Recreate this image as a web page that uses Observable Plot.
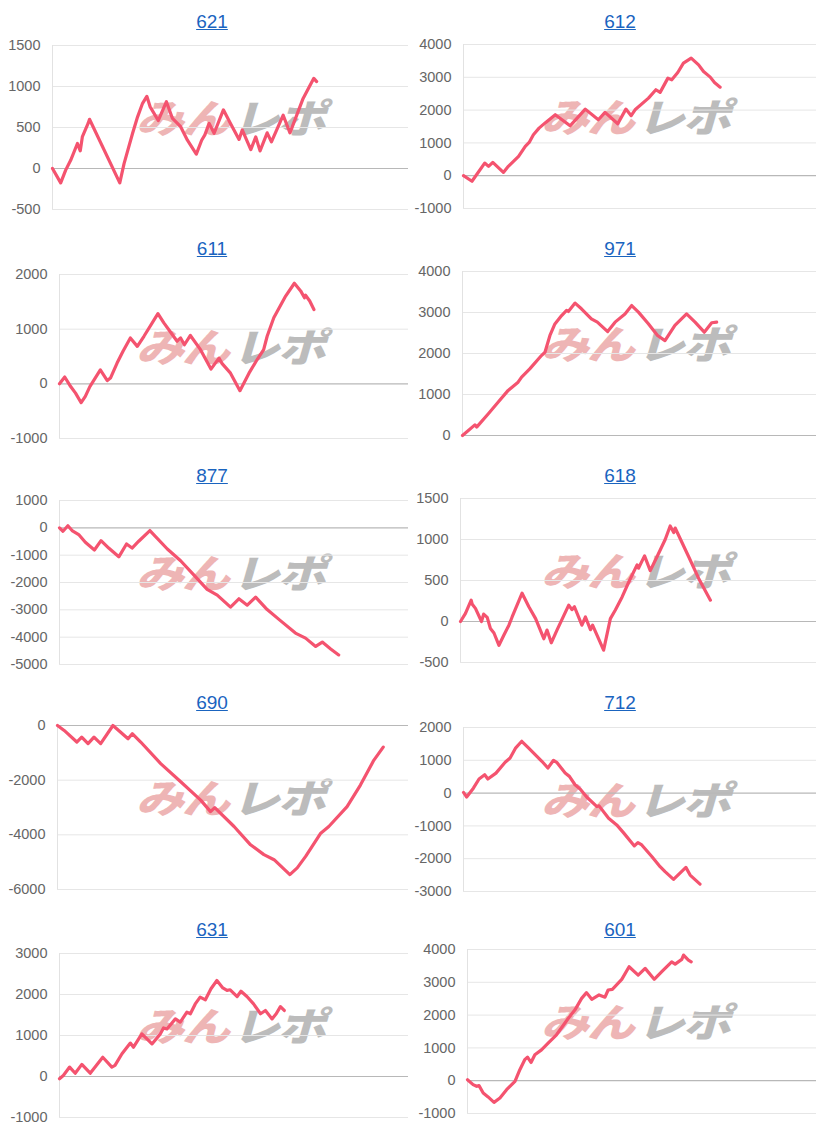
<!DOCTYPE html>
<html>
<head>
<meta charset="utf-8">
<script src="https://cdn.jsdelivr.net/npm/d3@7"></script>
<script src="https://cdn.jsdelivr.net/npm/@observablehq/plot@0.6"></script>
<style>
  html, body { margin: 0; padding: 0; background: #fff; }
  #page { position: relative; width: 816px; height: 1135px; overflow: hidden; font-family: "Liberation Sans", Arial, sans-serif; }
  .panel { position: absolute; width: 408px; height: 227px; }
  .title { position: absolute; top: 11px; left: 0; width: 424px; text-align: center; font-size: 19px; line-height: 22px; }
  .title a { color: #1a64bf; text-decoration: underline; }
  .wm { position: absolute; width: 205px; height: 40px; z-index: 0; white-space: nowrap;
        font-family: "Noto Sans CJK JP", sans-serif; font-weight: 900; font-size: 48px; line-height: 40px;
        transform: skewX(-16deg) scaleY(0.82); letter-spacing: -2px; }
  .wm .a { color: #eeb5b5; }
  .wm .b { color: #bcbcbc; margin-left: 4px; }
  .chart { position: absolute; left: 0; z-index: 1; }
  .chart svg { background: transparent !important; }
</style>
</head>
<body>
<div id="page"></div>
<script>
// Machine numbers (panel titles), in reading order
const machines = ["621", "612", "611", "971", "877", "618", "690", "712", "631", "601"];

// x: position along the x axis (percent of axis length); y: cumulative medals
const m621x = [0, 2.3, 3.7, 5.1, 7.0, 7.8, 8.4, 10.0, 10.4, 18.9, 20.1, 22.5, 23.9, 25.3, 26.5, 27.4, 29.7, 32.0, 33.7, 36.0, 37.9, 40.4, 41.9, 42.8, 44.0, 45.4, 48.0, 50.0, 52.4, 53.3, 55.7, 57.1, 58.3, 60.3, 61.5, 64.8, 66.7, 70.4, 73.4, 74.2];
const m621y = [0, -175, -20, 100, 305, 215, 390, 550, 600, -175, 60, 430, 630, 795, 880, 755, 585, 815, 610, 510, 345, 175, 345, 410, 550, 430, 715, 550, 355, 470, 230, 385, 215, 435, 325, 650, 435, 855, 1100, 1060];

const m612x = [0, 2.4, 6.0, 7.1, 8.3, 11.3, 12.7, 15.6, 17.5, 18.6, 19.8, 21.4, 23.3, 26.0, 30.2, 34.5, 38.2, 40.1, 43.7, 46.0, 47.5, 48.6, 52.4, 54.5, 55.7, 57.9, 59.0, 60.7, 62.3, 64.5, 66.6, 68.0, 69.9, 71.1, 72.7];
const m612y = [0, -170, 385, 285, 405, 100, 285, 590, 895, 1015, 1250, 1450, 1625, 1860, 1520, 2030, 1705, 1930, 1585, 2030, 1830, 2010, 2365, 2620, 2540, 2975, 2925, 3145, 3430, 3585, 3380, 3175, 3005, 2840, 2700];

const m611x = [0, 1.5, 3.2, 4.6, 6.2, 7.4, 8.7, 11.7, 13.7, 14.6, 16.5, 18.2, 20.3, 22.3, 24.2, 28.2, 29.9, 32.0, 33.7, 34.7, 35.8, 37.5, 40.4, 43.4, 45.7, 46.6, 49.0, 51.7, 54.3, 56.6, 58.5, 59.5, 61.4, 64.8, 67.3, 69.1, 70.2, 70.5, 71.7, 72.9];
const m611y = [0, 125, -50, -170, -345, -230, -50, 255, 60, 105, 380, 595, 840, 685, 870, 1285, 1115, 930, 780, 840, 715, 885, 625, 270, 470, 370, 195, -125, 195, 440, 625, 870, 1210, 1605, 1840, 1700, 1575, 1620, 1515, 1360];

const m971x = [0, 3.5, 4.0, 7.3, 10.1, 12.9, 15.7, 16.7, 19.0, 22.3, 23.3, 24.7, 26.1, 28.0, 29.4, 29.9, 31.8, 33.6, 36.4, 38.1, 41.0, 43.1, 45.9, 47.8, 49.7, 52.5, 55.1, 57.2, 60.0, 63.3, 65.7, 68.3, 70.4, 71.8];
const m971y = [0, 260, 205, 530, 815, 1100, 1300, 1425, 1625, 1950, 2030, 2440, 2720, 2925, 3050, 3025, 3230, 3090, 2845, 2765, 2535, 2765, 2965, 3170, 3010, 2725, 2440, 2315, 2685, 2965, 2765, 2520, 2750, 2765];

const m877x = [0, 1.0, 2.4, 3.6, 5.5, 7.4, 10.0, 11.9, 14.1, 17.0, 19.2, 20.8, 22.7, 25.9, 30.9, 34.7, 39.0, 42.3, 45.2, 49.0, 51.4, 53.8, 56.2, 59.5, 63.3, 67.6, 70.5, 73.4, 75.3, 77.7, 80.0];
const m877y = [0, -125, 75, -100, -245, -530, -810, -470, -740, -1060, -590, -740, -490, -100, -775, -1205, -1795, -2250, -2460, -2900, -2595, -2830, -2535, -2990, -3395, -3850, -4035, -4340, -4180, -4430, -4650];

const m618x = [0, 1.4, 3.0, 3.3, 4.2, 5.9, 6.5, 7.5, 8.4, 9.4, 10.8, 12.2, 13.6, 14.5, 17.3, 19.2, 21.1, 23.4, 24.3, 25.5, 27.1, 30.4, 31.3, 32.0, 34.1, 35.1, 36.5, 37.1, 40.2, 42.1, 43.5, 45.4, 47.3, 49.6, 50.0, 51.7, 53.3, 55.2, 57.5, 58.9, 59.9, 60.3, 64.1, 66.9, 70.2];
const m618y = [0, 100, 260, 210, 160, 0, 90, 50, -85, -140, -290, -165, -45, 55, 345, 180, 35, -210, -105, -260, -105, 200, 145, 180, -45, 55, -100, -45, -350, 35, 140, 300, 485, 690, 650, 800, 620, 790, 1000, 1165, 1085, 1140, 790, 525, 260];

const m690x = [0, 1.9, 5.5, 6.9, 8.7, 10.4, 12.3, 15.8, 20.1, 21.3, 23.7, 29.4, 35.1, 40.8, 43.6, 44.8, 50.3, 55.0, 58.8, 61.7, 66.2, 68.3, 70.7, 75.0, 77.3, 82.5, 86.3, 90.1, 92.8];
const m690y = [0, -180, -605, -425, -665, -425, -665, 0, -485, -300, -605, -1395, -2060, -2730, -3150, -3005, -3695, -4365, -4725, -4910, -5455, -5210, -4790, -3940, -3695, -2970, -2180, -1275, -790];

const m712x = [0, 0.9, 2.8, 4.4, 6.0, 6.9, 9.2, 11.8, 13.2, 14.8, 16.5, 18.4, 20.3, 22.2, 23.9, 25.5, 26.4, 28.8, 30.0, 31.6, 33.1, 34.9, 37.8, 38.4, 41.1, 43.4, 45.3, 48.4, 49.4, 50.5, 53.4, 55.7, 57.1, 59.5, 63.0, 64.2, 67.0];
const m712y = [20, -120, 150, 430, 560, 430, 610, 940, 1070, 1380, 1580, 1380, 1175, 970, 765, 1000, 940, 610, 510, 255, 120, -120, -410, -390, -765, -970, -1205, -1610, -1510, -1580, -1940, -2245, -2395, -2630, -2265, -2500, -2775];

const m631x = [0, 1.1, 2.9, 4.5, 6.4, 8.8, 10.2, 12.4, 15.0, 15.9, 17.9, 20.3, 21.2, 23.6, 26.5, 28.9, 29.8, 30.8, 33.2, 34.6, 36.5, 37.5, 38.9, 40.3, 41.8, 43.4, 45.1, 46.8, 48.0, 48.9, 50.9, 52.0, 53.7, 55.6, 57.6, 59.0, 60.9, 62.1, 63.3, 64.4];
const m631y = [-55, 25, 230, 80, 295, 80, 230, 470, 230, 270, 555, 815, 715, 1040, 795, 1040, 1185, 1160, 1405, 1325, 1570, 1530, 1770, 1935, 1870, 2140, 2340, 2160, 2100, 2115, 1950, 2080, 1950, 1770, 1530, 1610, 1405, 1530, 1705, 1610];

const m601x = [0, 1.6, 2.6, 3.3, 4.5, 5.9, 7.6, 9.3, 11.2, 13.6, 15.0, 16.4, 17.2, 18.2, 19.3, 21.2, 23.1, 25.5, 28.9, 30.8, 32.7, 34.1, 35.6, 37.7, 39.4, 40.3, 41.5, 44.2, 46.3, 48.9, 50.9, 53.5, 55.6, 58.5, 59.5, 61.4, 61.9, 63.3, 64.1];
const m601y = [30, -120, -170, -150, -375, -495, -660, -525, -275, -20, 335, 640, 720, 555, 790, 940, 1145, 1400, 1905, 2160, 2510, 2685, 2480, 2615, 2545, 2765, 2785, 3090, 3475, 3220, 3425, 3090, 3320, 3625, 3555, 3700, 3830, 3675, 3625];

// y axis ranges and tick values per panel
const yDomains = [[-500, 1500], [-1000, 4000], [-1000, 2000], [0, 4000], [-5000, 1000], [-500, 1500], [-6000, 0], [-3000, 2000], [-1000, 3000], [-1000, 4000]];
const yTicks = [
  [-500, 0, 500, 1000, 1500],
  [-1000, 0, 1000, 2000, 3000, 4000],
  [-1000, 0, 1000, 2000],
  [0, 1000, 2000, 3000, 4000],
  [-5000, -4000, -3000, -2000, -1000, 0, 1000],
  [-500, 0, 500, 1000, 1500],
  [-6000, -4000, -2000, 0],
  [-3000, -2000, -1000, 0, 1000, 2000],
  [-1000, 0, 1000, 2000, 3000],
  [-1000, 0, 1000, 2000, 3000, 4000]
];

const series = [
  [m621x, m621y], [m612x, m612y], [m611x, m611y], [m971x, m971y], [m877x, m877y],
  [m618x, m618y], [m690x, m690y], [m712x, m712y], [m631x, m631y], [m601x, m601y]
];

// layout
const marginLefts = [52, 55, 59, 54, 59, 52, 57, 55, 59, 59];
const plotTops = [45, 44, 47, 44, 46, 44, 44, 46, 45, 41];
const plotH = 164;

const page = document.getElementById("page");

machines.forEach((name, i) => {
  const col = i % 2, row = Math.floor(i / 2);
  const panel = document.createElement("div");
  panel.className = "panel";
  panel.style.left = (col * 408) + "px";
  panel.style.top = (row * 227) + "px";

  const title = document.createElement("div");
  title.className = "title";
  title.innerHTML = `<a href="#">${name}</a>`;
  panel.appendChild(title);

  const top = plotTops[i];
  const wm = document.createElement("div");
  wm.className = "wm";
  wm.style.left = (col ? 138 : 141) + "px";
  wm.style.top = (top + 51) + "px";
  wm.innerHTML = `<span class="a">みん</span><span class="b">レポ</span>`;
  panel.appendChild(wm);

  const [xs, ys] = series[i];
  const idx = d3.range(xs.length);
  const yd = yDomains[i];

  const chart = Plot.plot({
    width: 408,
    height: plotH + 20,
    marginTop: 10,
    marginBottom: 10,
    marginLeft: marginLefts[i],
    marginRight: 0,
    style: { background: "transparent", fontFamily: "'Liberation Sans', Arial, sans-serif" },
    x: { domain: [0, 100], axis: null },
    y: { domain: yd, axis: null },
    marks: [
      Plot.ruleY(yTicks[i].filter(t => t !== 0), { stroke: "#e6e6e6", strokeWidth: 1 }),
      Plot.ruleX([0], { stroke: "#e2e2e2", strokeWidth: 1 }),
      yd[0] <= 0 && yd[1] >= 0 ? Plot.ruleY([0], { stroke: "#b8b8b8", strokeWidth: 1.2 }) : null,
      Plot.axisY({ ticks: yTicks[i], tickSize: 0, tickPadding: 12, fontSize: 14.5, color: "#666", tickFormat: d => String(d) }),
      Plot.line(idx, { x: j => xs[j], y: j => ys[j], stroke: "#f4536f", strokeWidth: 3.2, strokeLinejoin: "round", strokeLinecap: "round" })
    ]
  });
  chart.classList.add("chart");
  chart.style.top = (top - 10) + "px";
  panel.appendChild(chart);

  page.appendChild(panel);
});
</script>
</body>
</html>
